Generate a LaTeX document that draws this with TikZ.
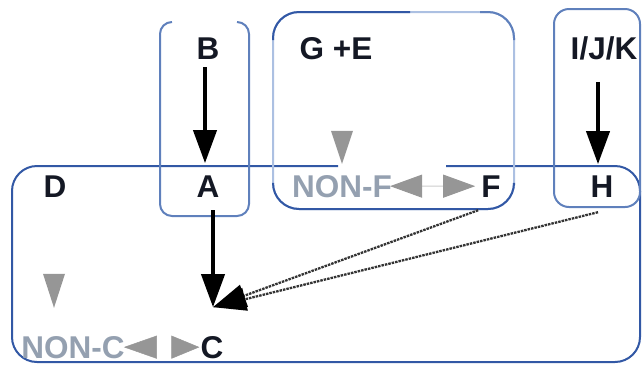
\documentclass[tikz,border=0pt]{standalone}
\usepackage{fontspec}
\setmainfont{Liberation Sans}
\usetikzlibrary{arrows.meta,calc}

\definecolor{boxdark}{RGB}{50,88,165}
\definecolor{boxmid}{RGB}{95,128,188}
\definecolor{boxlight}{RGB}{172,192,226}
\definecolor{tri}{RGB}{150,150,150}
\definecolor{faint}{RGB}{148,160,176}
\definecolor{inkdark}{RGB}{20,24,36}

\begin{document}
\begin{tikzpicture}[x=1pt,y=-1pt,
  lbl/.style={font=\fontsize{31.5}{36}\selectfont\bfseries, inner sep=1pt, anchor=base, text=inkdark},
  ghost/.style={lbl, text=faint},
  frame/.style={line width=2pt, rounded corners=#1},
  solidarrow/.style={line width=4pt, black, -{Triangle[length=33pt,width=23pt]}},
  dotarrow/.style={line width=2.3pt, black!80, dash pattern=on 2.5pt off 1pt,
    -{Triangle[length=33pt,width=23pt,color=black]}},
  pairarrow/.style={{Triangle[length=32pt,width=23pt,color=tri]}-{Triangle[length=32pt,width=23pt,color=tri]}}
]
\useasboundingbox (0,0) rectangle (642,365);

% outer group D, its top edge broken under the G+E group
\draw[frame=25, boxdark] (338,166) -- (12,166) -- (12,362) -- (640,362) -- (640,166) -- (446,166);

% group around B and A, open at the top
\draw[frame=12, boxmid] (172,22) -- (160,22) -- (160,216) -- (249,216) -- (249,22) -- (237,22);

% group G +E
\draw[frame=26, boxlight] (273,12) rectangle (514,209);
\draw[frame=26, boxdark] (273,40) -- (273,12) -- (410,12);
\draw[frame=26, boxmid] (480,12) -- (514,12) -- (514,40);
\draw[frame=26, boxdark] (273,185) -- (273,209) -- (514,209) -- (514,185);

% group I/J/K and H
\draw[frame=15, boxmid] (554,9) rectangle (640,207);

% labels
\node[lbl] (B) at (208,59) {B};
\node[lbl] (GE) at (336,59) {G +E};
\node[lbl] (IJK) at (604,59) {I/J/K};
\node[lbl] (D) at (55,197) {D};
\node[lbl] (A) at (208,197) {A};
\node[ghost] (NONF) at (342,197) {NON-F};
\node[lbl] (F) at (491,197) {F};
\node[lbl] (H) at (602,197) {H};
\node[ghost] (NONC) at (73,358) {NON-C};
\node[lbl] (C) at (212,358) {C};

\coordinate (Cin) at ($(C.center)+(1,-40)$);

% solid arrows
\draw[solidarrow, shorten <=19pt, shorten >=23pt] ([xshift=-3pt]B.center) -- ([xshift=-3pt]A.center);
\draw[solidarrow, shorten <=34pt, shorten >=22pt] ([xshift=-6pt]IJK.center) -- ([xshift=-4pt]H.center);
\draw[solidarrow, shorten <=24pt] (A.center -| Cin) -- (Cin);

% dotted arrows
\draw[dotarrow] ([xshift=-2pt,yshift=-12pt]F.south west) -- (Cin);
\draw[dotarrow] ([xshift=-4pt,yshift=-14pt]H.south) -- (Cin);

% grey pairs
\draw[pairarrow, line width=1pt, black!20, shorten <=-3pt, shorten >=5pt] (NONF.east) -- (F.west);
\draw[line width=0.5pt, white,
  {Triangle[length=33pt,width=23pt,color=tri]}-{Triangle[length=28pt,width=23pt,color=tri]},
  shorten <=-2pt] (NONC.east) -- (C.west);

% incoming grey heads
\fill[tri] ($(NONF.north)+(0,-10)$) -- ++(-11,-33) -- ++(22,0) -- cycle;
\fill[tri] ($(NONC.north)+(-19,-27)$) -- ++(-11,-34) -- ++(22,0) -- cycle;
\end{tikzpicture}
\end{document}
